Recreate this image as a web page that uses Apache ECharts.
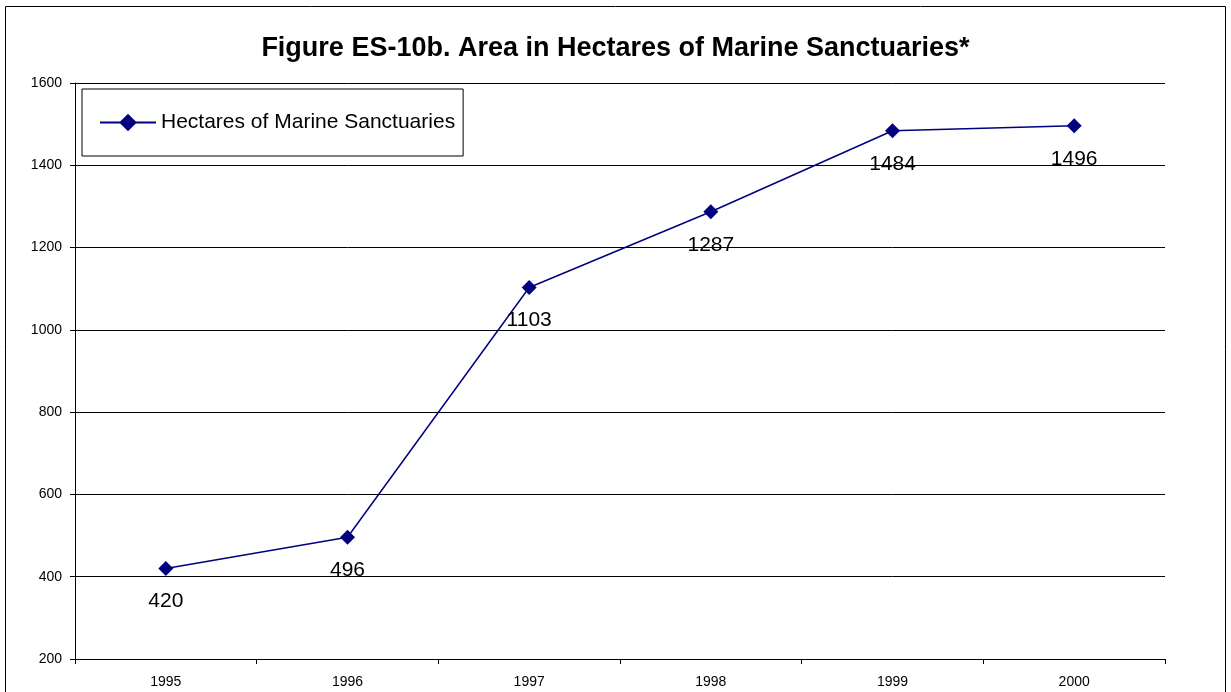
<!DOCTYPE html>
<html>
<head>
<meta charset="utf-8">
<script src="https://cdn.jsdelivr.net/npm/echarts@6/dist/echarts.min.js"></script>
<style>
  html, body { margin: 0; padding: 0; background: #fff; }
  #chart { width: 1231px; height: 692px; }
</style>
</head>
<body>
<div id="chart"></div>
<script>
// Area of marine sanctuaries by year (hectares)
const years = ['1995', '1996', '1997', '1998', '1999', '2000'];
const hectares = [420, 496, 1103, 1287, 1484, 1496];
const seriesName = 'Hectares of Marine Sanctuaries';
const titleText = 'Figure ES-10b. Area in Hectares of Marine Sanctuaries*';

const FONT = 'Liberation Sans, Arial';
const chart = echarts.init(document.getElementById('chart'));
chart.setOption({
  backgroundColor: '#fff',
  animation: false,
  title: {
    text: titleText,
    left: 'center',
    top: 30,
    textStyle: { fontFamily: FONT, fontSize: 27, fontWeight: 'bold', color: '#000' }
  },
  graphic: [{
    type: 'rect',
    shape: { x: 5.5, y: 6.5, width: 1220, height: 700 },
    style: { fill: 'none', stroke: '#000', lineWidth: 1 },
    silent: true
  }],
  legend: {
    left: 82,
    top: 89,
    orient: 'horizontal',
    padding: [23, 8, 23, 17],
    itemWidth: 56,
    itemHeight: 22,
    borderColor: '#000',
    borderWidth: 1,
    backgroundColor: '#fff',
    textStyle: { fontFamily: FONT, fontSize: 21, color: '#000' },
    data: [seriesName]
  },
  grid: { left: 75, right: 66, top: 83, bottom: 33, containLabel: false },
  xAxis: {
    type: 'category',
    data: years,
    boundaryGap: true,
    axisLine: { lineStyle: { color: '#000', width: 1 } },
    axisTick: { show: true, alignWithLabel: false, length: 5, lineStyle: { color: '#000' } },
    axisLabel: { fontFamily: FONT, fontSize: 14, color: '#000', margin: 16 },
    splitLine: { show: false }
  },
  yAxis: {
    type: 'value',
    min: 200,
    max: 1600,
    interval: 200,
    axisLine: { show: true, lineStyle: { color: '#000', width: 1 } },
    axisTick: { show: true, length: 5, lineStyle: { color: '#000' } },
    axisLabel: { fontFamily: FONT, fontSize: 14, color: '#000', margin: 13, formatter: v => String(v) },
    splitLine: { show: true, lineStyle: { color: '#000', width: 1 } }
  },
  series: [{
    name: seriesName,
    type: 'line',
    data: hectares,
    symbol: 'diamond',
    symbolSize: 15,
    itemStyle: { color: '#000080' },
    lineStyle: { color: '#000080', width: 1.5 },
    label: {
      show: true,
      position: 'bottom',
      distance: 15,
      fontFamily: FONT,
      fontSize: 21,
      color: '#000'
    }
  }]
});
</script>
</body>
</html>
